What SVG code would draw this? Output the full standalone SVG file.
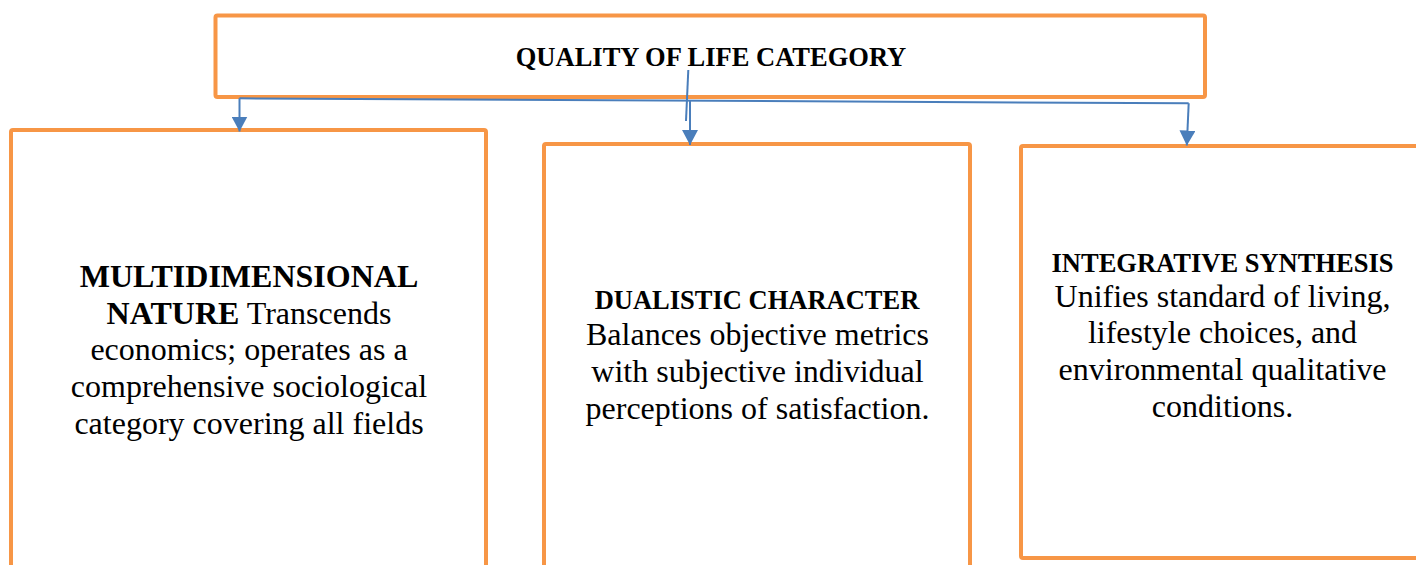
<svg xmlns="http://www.w3.org/2000/svg" width="1416" height="565" viewBox="0 0 1416 565">
  <style>
    .box { fill: #ffffff; stroke: #F79646; stroke-width: 4; stroke-linejoin: round; }
    .conn { fill: none; stroke: #4A7EBB; stroke-width: 2; }
    .t { font-family: "Liberation Serif", "Times New Roman", serif; fill: #000000; text-anchor: middle; }
    .head { font-weight: bold; font-size: 26.5px; }
    .body { font-size: 32px; }
    .b { font-weight: bold; }
  </style>
  <defs>
    <marker id="arrow" markerUnits="userSpaceOnUse" viewBox="0 0 15 16" markerWidth="15" markerHeight="16" refX="15" refY="8" orient="auto">
      <path d="M0,0 L15,8 L0,16 z" fill="#4A7EBB"/>
    </marker>
  </defs>

  <rect width="1416" height="565" fill="#ffffff"/>

  <!-- root category -->
  <g id="node-root">
    <rect class="box" x="215.5" y="15.5" width="989.5" height="81.5" rx="2"/>
    <text class="t head" x="711" y="66">QUALITY OF LIFE CATEGORY</text>
  </g>

  <!-- multidimensional nature -->
  <g id="node-multidimensional">
    <rect class="box" x="11" y="130" width="475" height="480" rx="2"/>
    <text class="t body b" x="249" y="286.5">MULTIDIMENSIONAL</text>
    <text class="t body" x="249" y="323.5"><tspan class="b">NATURE</tspan> Transcends</text>
    <text class="t body" x="249" y="360">economics; operates as a</text>
    <text class="t body" x="249" y="397">comprehensive sociological</text>
    <text class="t body" x="249" y="434">category covering all fields</text>
  </g>

  <!-- dualistic character -->
  <g id="node-dualistic">
    <rect class="box" x="544" y="144" width="426" height="470" rx="2"/>
    <text class="t head" x="757" y="309">DUALISTIC CHARACTER</text>
    <text class="t body" x="757.5" y="345">Balances objective metrics</text>
    <text class="t body" x="757.5" y="382">with subjective individual</text>
    <text class="t body" x="757.5" y="419">perceptions of satisfaction.</text>
  </g>

  <!-- integrative synthesis -->
  <g id="node-integrative">
    <rect class="box" x="1021" y="146" width="500" height="412" rx="2"/>
    <text class="t head" x="1222.5" y="271.5">INTEGRATIVE SYNTHESIS</text>
    <text class="t body" x="1222.5" y="306.5">Unifies standard of living,</text>
    <text class="t body" x="1222.5" y="343">lifestyle choices, and</text>
    <text class="t body" x="1222.5" y="380">environmental qualitative</text>
    <text class="t body" x="1222.5" y="416.5">conditions.</text>
  </g>

  <!-- connectors -->
  <g id="connectors">
    <path class="conn" d="M239.5,98.3 L1188.7,103.3"/>
    <path class="conn" d="M688.3,70 L686,121"/>
    <path class="conn" d="M239.5,98.3 L239.5,131.5" marker-end="url(#arrow)"/>
    <path class="conn" d="M690,100.7 L690,145" marker-end="url(#arrow)"/>
    <path class="conn" d="M1188.7,103.3 L1186.8,145.5" marker-end="url(#arrow)"/>
  </g>
</svg>
